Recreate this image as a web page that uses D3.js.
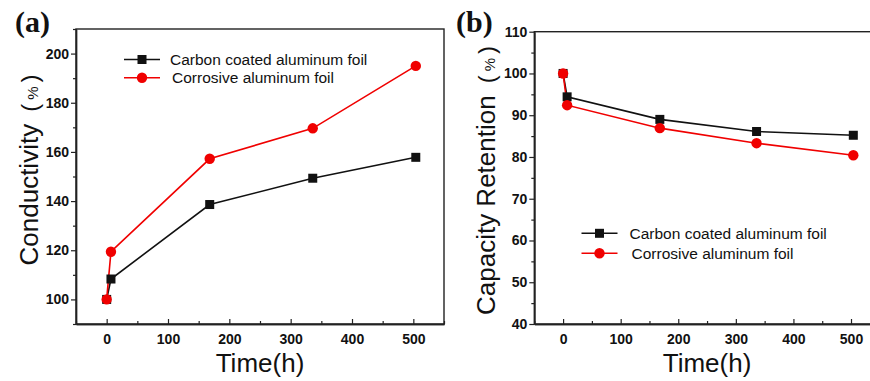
<!DOCTYPE html>
<html>
<head>
<meta charset="utf-8">
<script src="https://cdn.jsdelivr.net/npm/d3@7"></script>
<style>
  body { margin: 0; background: #fff; }
  svg text { font-family: "Liberation Sans", Arial, sans-serif; fill: #111; }
  svg text.letter { font-family: "Liberation Serif", "Times New Roman", serif; }
</style>
</head>
<body>
<svg id="chart" width="870" height="381"></svg>
<script>
// Data
const hours = [0, 7, 168, 336, 504];
const conductivityCarbon = [100, 108.3, 138.6, 149.3, 157.8];
const conductivityCorrosive = [100, 119.4, 157.2, 169.6, 195.0];
const retentionCarbon = [100, 94.4, 89.0, 86.1, 85.2];
const retentionCorrosive = [100, 92.4, 86.9, 83.3, 80.4];
const seriesNames = ['Carbon coated aluminum foil', 'Corrosive aluminum foil'];
const seriesColors = ['#111', '#f00000'];
const xTicks = [0, 100, 200, 300, 400, 500];
const xMinorTicks = [-50, 50, 150, 250, 350, 450, 550];
const conductivityTicks = [100, 120, 140, 160, 180, 200];
const conductivityMinor = [90, 110, 130, 150, 170, 190, 210];
const retentionTicks = [40, 50, 60, 70, 80, 90, 100, 110];
const retentionMinor = [45, 55, 65, 75, 85, 95, 105];

const svg = d3.select('#chart');

// Draw one panel
function drawPanel(opts) {
  const x = d3.scaleLinear([-50, 550], [opts.left, opts.right]);
  const y = d3.scaleLinear(opts.yDomain, [opts.bottom, opts.top]);
  const g = svg.append('g');

  // Frame
  g.append('rect')
    .attr('x', opts.left)
    .attr('y', opts.top)
    .attr('width', opts.right - opts.left)
    .attr('height', opts.bottom - opts.top)
    .attr('fill', 'none')
    .attr('stroke', '#222')
    .attr('stroke-width', 1.4);

  // X axis, ticks pointing inward
  const xAxis = g.append('g')
    .attr('transform', `translate(0,${opts.bottom})`)
    .call(d3.axisBottom(x).tickValues(xTicks).tickSizeInner(-5).tickSizeOuter(0).tickPadding(10));
  xAxis.append('g')
    .call(d3.axisBottom(x).tickValues(xMinorTicks).tickSizeInner(-3).tickSizeOuter(0).tickFormat(''));

  // Y axis
  const yAxis = g.append('g')
    .attr('transform', `translate(${opts.left},0)`)
    .call(d3.axisLeft(y).tickValues(opts.yTicks).tickSizeInner(5).tickSizeOuter(0).tickPadding(2));
  yAxis.append('g')
    .call(d3.axisLeft(y).tickValues(opts.yMinor).tickSizeInner(3).tickSizeOuter(0).tickFormat(''));

  g.selectAll('.domain').attr('stroke', '#222').attr('stroke-width', 1.4);
  g.selectAll('.tick line').attr('stroke', '#222').attr('stroke-width', 1.2);
  g.selectAll('.tick text')
    .attr('font-size', 14)
    .attr('font-weight', 'bold')
    .attr('fill', '#222');

  // Lines and markers
  const line = d3.line().x((d) => x(d[0])).y((d) => y(d[1]));
  opts.series.forEach((values, i) => {
    const pts = hours.map((h, j) => [h, values[j]]);
    g.append('path')
      .datum(pts)
      .attr('d', line)
      .attr('fill', 'none')
      .attr('stroke', seriesColors[i])
      .attr('stroke-width', 1.6);
  });
  opts.series.forEach((values, i) => {
    const pts = hours.map((h, j) => [h, values[j]]);
    if (i === 0) {
      g.selectAll(null).data(pts).enter().append('rect')
        .attr('x', (d) => x(d[0]) - 4.5)
        .attr('y', (d) => y(d[1]) - 4.5)
        .attr('width', 9)
        .attr('height', 9)
        .attr('fill', seriesColors[i]);
    } else {
      g.selectAll(null).data(pts).enter().append('circle')
        .attr('cx', (d) => x(d[0]))
        .attr('cy', (d) => y(d[1]))
        .attr('r', 5.2)
        .attr('fill', seriesColors[i]);
    }
  });

  // Legend
  opts.legend.forEach((row, i) => {
    g.append('line')
      .attr('x1', row.x).attr('x2', row.x + 36)
      .attr('y1', row.y).attr('y2', row.y)
      .attr('stroke', seriesColors[i]).attr('stroke-width', 1.6);
    if (i === 0) {
      g.append('rect')
        .attr('x', row.x + 18 - 4.5).attr('y', row.y - 4.5)
        .attr('width', 9).attr('height', 9)
        .attr('fill', seriesColors[i]);
    } else {
      g.append('circle')
        .attr('cx', row.x + 18).attr('cy', row.y).attr('r', 5.2)
        .attr('fill', seriesColors[i]);
    }
    g.append('text')
      .attr('x', row.tx)
      .attr('y', row.y + 5.5)
      .attr('font-size', 15.5)
      .text(seriesNames[i]);
  });

  // Axis titles
  g.append('text')
    .attr('x', (opts.left + opts.right) / 2)
    .attr('y', 372)
    .attr('text-anchor', 'middle')
    .attr('font-size', 26)
    .text('Time(h)');

  const yl = g.append('text')
    .attr('transform', `translate(${opts.yLabelX},${opts.yLabelY}) rotate(-90)`)
    .attr('text-anchor', 'middle')
    .attr('font-size', 26)
    .text(opts.yLabel);
  yl.append('tspan').attr('dx', 12).attr('font-size', 24).text('(');
  yl.append('tspan').attr('dx', 4).attr('font-size', 15).text('%');
  yl.append('tspan').attr('dx', 4).attr('font-size', 24).text(')');

  // Panel letter
  g.append('text')
    .attr('class', 'letter')
    .attr('x', opts.letterX)
    .attr('y', 32)
    .attr('font-weight', 'bold')
    .attr('font-size', 30)
    .text(opts.letter);
}

drawPanel({
  left: 76, right: 444, top: 29, bottom: 324,
  yDomain: [90, 210],
  yTicks: conductivityTicks,
  yMinor: conductivityMinor,
  series: [conductivityCarbon, conductivityCorrosive],
  legend: [{ x: 124, y: 59.5, tx: 170 }, { x: 124, y: 77.7, tx: 172 }],
  yLabel: 'Conductivity',
  yLabelX: 38, yLabelY: 170,
  letter: '(a)', letterX: 15,
});

drawPanel({
  left: 534.3, right: 879.8, top: 31.7, bottom: 324,
  yDomain: [40, 110],
  yTicks: retentionTicks,
  yMinor: retentionMinor,
  series: [retentionCarbon, retentionCorrosive],
  legend: [{ x: 581.5, y: 233.3, tx: 629.5 }, { x: 581.5, y: 253.3, tx: 631.5 }],
  yLabel: 'Capacity Retention',
  yLabelX: 495, yLabelY: 180.5,
  letter: '(b)', letterX: 456,
});
</script>
</body>
</html>
